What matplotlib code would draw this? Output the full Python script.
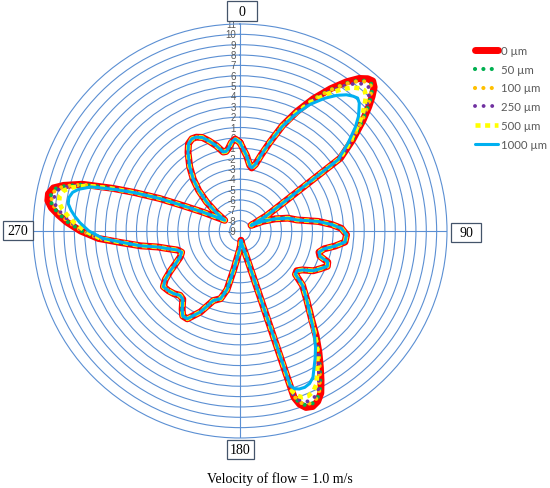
import matplotlib
matplotlib.use("Agg")
import matplotlib.pyplot as plt
import matplotlib.transforms as mtransforms
import numpy as np
from matplotlib.lines import Line2D
from matplotlib.patches import Rectangle

# ---- data ----
ANGLE_DEG = [
    0, 5, 8.5, 10.5, 13, 15.5, 18.5,
    22, 25.5, 29, 32.5, 35.5, 38, 40, 41.5, 43, 44.5, 46, 48, 51, 54,
    60, 63, 67, 71, 75, 79, 83, 86, 88.5, 92, 96, 99, 102, 105, 107.5, 109.5,
    112, 115, 118.5, 122, 125, 128, 131, 136,
    141, 144, 147, 149.5, 151.5, 153.5, 155.5, 157.5, 159.5, 161, 162,
    167, 171, 174, 178, 182, 186, 189, 192.5, 196, 201, 206, 211, 214, 216.5,
    220, 223, 226.5, 230, 234, 237, 240, 243, 246.5, 250, 253, 256, 259, 261.5,
    264.5, 267, 270, 273, 275, 277, 279, 281, 283, 284.5, 286.5, 288.5, 290,
    292, 294, 297, 300.5, 305, 308, 311, 314.5, 318, 322, 326.5, 329.5, 332.5,
    335, 338, 341, 344.5, 348, 350, 352, 354.5, 357,
]

VAL_0UM = [
    -0.45, -1.7, -2.6, -2.8, -2.4, -1.4, 0.0,
    2.0, 3.8, 5.6, 7.3, 8.7, 9.7, 10.2, 10.35, 10.0, 9.2, 8.3, 7.0, 5.0, 3.0,
    -6.0, -7.8, -6.6, -5.4, -4.2, -3.4, -1.4, -0.1, 0.8, 1.3, 1.2, 0.3, -0.7, -1.1, -0.9, 0.0,
    0.1, -0.4, -0.95, -1.9, -2.3, -2.2, -1.0, 0.3,
    2.0, 3.5, 5.0, 6.3, 7.4, 8.5, 9.1, 9.35, 9.2, 8.7, 7.9,
    -6.9, -7.6, -8.1, -7.6, -7.1, -6.4, -5.3, -3.2, -2.2, -1.8, -0.3, 0.9, 0.9, 0.4,
    -0.4, -0.5, -0.2, 0.0, 0.15, -0.4, -1.2, -2.0, -2.7, -3.0, -2.7, -1.9, -0.9, 0.7,
    2.6, 4.7, 6.4, 7.8, 8.6, 9.35, 9.8, 9.85, 9.5, 8.6, 6.9, 4.0, 1.9,
    -0.6, -3.0, -5.0, -6.4, -7.2, -6.0, -4.7, -3.4, -2.25, -1.1, 0.1, 0.8, 1.05,
    1.0, 0.75, 0.2, -0.45, -1.2, -1.2, -0.95, -0.4, -0.1,
]

VAL_50UM = [
    -0.45, -1.7, -2.6, -2.8, -2.4, -1.4, 0.0,
    2.0, 3.75, 5.55, 7.15, 8.5, 9.45, 9.95, 10.1, 9.75, 9.0, 8.15, 6.9, 4.95, 3.0,
    -6.0, -7.8, -6.6, -5.4, -4.2, -3.4, -1.4, -0.1, 0.8, 1.3, 1.2, 0.3, -0.7, -1.1, -0.9, 0.0,
    0.1, -0.4, -0.95, -1.9, -2.3, -2.2, -1.0, 0.3,
    2.0, 3.45, 4.95, 6.2, 7.25, 8.3, 8.9, 9.1, 8.95, 8.5, 7.75,
    -6.9, -7.6, -8.1, -7.6, -7.1, -6.4, -5.3, -3.2, -2.2, -1.8, -0.3, 0.9, 0.9, 0.4,
    -0.4, -0.5, -0.2, 0.0, 0.15, -0.4, -1.2, -2.0, -2.7, -3.0, -2.7, -1.9, -0.9, 0.7,
    2.6, 4.65, 6.3, 7.65, 8.4, 9.1, 9.55, 9.6, 9.25, 8.4, 6.8, 3.95, 1.9,
    -0.6, -3.0, -5.0, -6.4, -7.2, -6.0, -4.7, -3.4, -2.25, -1.1, 0.1, 0.8, 1.05,
    1.0, 0.75, 0.2, -0.45, -1.2, -1.2, -0.95, -0.4, -0.1,
]

VAL_100UM = [
    -0.45, -1.7, -2.6, -2.8, -2.4, -1.4, 0.0,
    2.0, 3.75, 5.5, 7.1, 8.45, 9.35, 9.85, 10.0, 9.65, 8.9, 8.05, 6.85, 4.9, 2.95,
    -6.0, -7.8, -6.6, -5.4, -4.2, -3.4, -1.4, -0.1, 0.8, 1.3, 1.2, 0.3, -0.7, -1.1, -0.9, 0.0,
    0.1, -0.4, -0.95, -1.9, -2.3, -2.2, -1.0, 0.3,
    2.0, 3.45, 4.9, 6.15, 7.15, 8.2, 8.8, 9.0, 8.9, 8.45, 7.7,
    -6.9, -7.6, -8.1, -7.6, -7.1, -6.4, -5.3, -3.2, -2.2, -1.8, -0.3, 0.9, 0.9, 0.4,
    -0.4, -0.5, -0.2, 0.0, 0.15, -0.4, -1.2, -2.0, -2.7, -3.0, -2.7, -1.9, -0.9, 0.7,
    2.6, 4.65, 6.25, 7.6, 8.35, 9.0, 9.45, 9.5, 9.2, 8.35, 6.75, 3.95, 1.9,
    -0.6, -3.0, -5.0, -6.4, -7.2, -6.0, -4.7, -3.4, -2.25, -1.1, 0.1, 0.8, 1.05,
    1.0, 0.75, 0.2, -0.45, -1.2, -1.2, -0.95, -0.4, -0.1,
]

VAL_250UM = [
    -0.45, -1.7, -2.6, -2.8, -2.4, -1.4, 0.0,
    1.95, 3.7, 5.4, 6.95, 8.2, 9.1, 9.55, 9.7, 9.35, 8.65, 7.9, 6.7, 4.8, 2.9,
    -6.0, -7.8, -6.6, -5.4, -4.2, -3.4, -1.4, -0.1, 0.8, 1.3, 1.2, 0.3, -0.7, -1.1, -0.9, 0.0,
    0.1, -0.4, -0.95, -1.9, -2.3, -2.2, -1.0, 0.3,
    1.95, 3.4, 4.8, 6.0, 7.0, 8.0, 8.55, 8.75, 8.65, 8.2, 7.55,
    -6.9, -7.6, -8.1, -7.6, -7.1, -6.4, -5.3, -3.2, -2.2, -1.8, -0.3, 0.9, 0.9, 0.4,
    -0.4, -0.5, -0.2, 0.0, 0.15, -0.4, -1.2, -2.0, -2.7, -3.0, -2.7, -1.9, -0.9, 0.7,
    2.55, 4.6, 6.15, 7.4, 8.1, 8.8, 9.2, 9.25, 8.95, 8.15, 6.65, 3.9, 1.85,
    -0.6, -3.0, -5.0, -6.4, -7.2, -6.0, -4.7, -3.4, -2.25, -1.1, 0.1, 0.8, 1.05,
    1.0, 0.75, 0.2, -0.45, -1.2, -1.2, -0.95, -0.4, -0.1,
]

VAL_500UM = [
    -0.45, -1.7, -2.6, -2.8, -2.4, -1.4, 0.0,
    1.95, 3.65, 5.25, 6.7, 7.8, 8.6, 9.0, 9.15, 8.85, 8.2, 7.55, 6.45, 4.65, 2.85,
    -6.0, -7.8, -6.6, -5.4, -4.2, -3.4, -1.4, -0.1, 0.8, 1.3, 1.2, 0.3, -0.7, -1.1, -0.9, 0.0,
    0.1, -0.4, -0.95, -1.9, -2.3, -2.2, -1.0, 0.3,
    1.95, 3.35, 4.65, 5.75, 6.65, 7.55, 8.05, 8.25, 8.15, 7.8, 7.25,
    -6.9, -7.6, -8.1, -7.6, -7.1, -6.4, -5.3, -3.2, -2.2, -1.8, -0.3, 0.9, 0.9, 0.4,
    -0.4, -0.5, -0.2, 0.0, 0.15, -0.4, -1.2, -2.0, -2.7, -3.0, -2.7, -1.9, -0.9, 0.7,
    2.5, 4.5, 5.95, 7.1, 7.7, 8.3, 8.7, 8.75, 8.45, 7.8, 6.4, 3.8, 1.85,
    -0.6, -3.0, -5.0, -6.4, -7.2, -6.0, -4.7, -3.4, -2.25, -1.1, 0.1, 0.8, 1.05,
    1.0, 0.75, 0.2, -0.45, -1.2, -1.2, -0.95, -0.4, -0.1,
]

VAL_1000UM = [
    -0.45, -1.7, -2.6, -2.8, -2.4, -1.4, 0.0,
    1.9, 3.5, 5.0, 6.2, 7.1, 7.7, 8.0, 8.15, 7.9, 7.4, 6.9, 6.0, 4.4, 2.7,
    -6.0, -7.8, -6.6, -5.4, -4.2, -3.4, -1.4, -0.1, 0.8, 1.3, 1.2, 0.3, -0.7, -1.1, -0.9, 0.0,
    0.1, -0.4, -0.95, -1.9, -2.3, -2.2, -1.0, 0.3,
    1.9, 3.2, 4.4, 5.3, 6.0, 6.8, 7.2, 7.35, 7.3, 7.1, 6.7,
    -6.9, -7.6, -8.1, -7.6, -7.1, -6.4, -5.3, -3.2, -2.2, -1.8, -0.3, 0.9, 0.9, 0.4,
    -0.4, -0.5, -0.2, 0.0, 0.15, -0.4, -1.2, -2.0, -2.7, -3.0, -2.7, -1.9, -0.9, 0.7,
    2.45, 4.3, 5.6, 6.5, 7.0, 7.45, 7.8, 7.85, 7.6, 7.1, 6.0, 3.6, 1.8,
    -0.6, -3.0, -5.0, -6.4, -7.2, -6.0, -4.7, -3.4, -2.25, -1.1, 0.1, 0.8, 1.05,
    1.0, 0.75, 0.2, -0.45, -1.2, -1.2, -0.95, -0.4, -0.1,
]

SERIES_LABELS = ["0 µm", "50 µm", "100 µm", "250 µm", "500 µm", "1000 µm"]
R_TICKS = list(range(-9, 12))
ANGLE_LABELS = ["0", "90", "180", "270"]
CAPTION = "Velocity of flow = 1.0 m/s"

# ---- styling ----
W, H = 550, 489
GRID = "#5B8FD3"
BOX_EDGE = "#44546A"
styles = [
    dict(color="#FF0000", lw=5.0, ls="-", solid_capstyle="round"),
    dict(color="#00B050", lw=3.0, ls=(0, (0.01, 2.0)), dash_capstyle="round"),
    dict(color="#FFC000", lw=3.0, ls=(0, (0.01, 2.0)), dash_capstyle="round"),
    dict(color="#7030A0", lw=2.8, ls=(0, (0.01, 2.2)), dash_capstyle="round"),
    dict(color="#FFFF00", lw=3.3, ls=(0, (1.1, 1.0)), dash_capstyle="butt"),
    dict(color="#00B0F0", lw=2.2, ls="-", solid_capstyle="round"),
]
series = [VAL_0UM, VAL_50UM, VAL_100UM, VAL_250UM, VAL_500UM, VAL_1000UM]

fig = plt.figure(figsize=(W / 100, H / 100), dpi=100)
cx, cy, rad = 240, 232, 207
ax = fig.add_axes([(cx - rad) / W, (H - cy - rad) / H, 2 * rad / W, 2 * rad / H],
                  projection="polar")
ax.set_theta_zero_location("N")
ax.set_theta_direction(-1)
ax.set_ylim(R_TICKS[0], R_TICKS[-1])
ax.set_yticks(R_TICKS[1:-1])
ax.set_yticklabels([])
ax.set_xticks(np.deg2rad([0, 90, 180, 270]))
ax.set_xticklabels([])
ax.tick_params(length=0)
ax.grid(True, color=GRID, lw=0.8)
ax.spines["polar"].set_color(GRID)
ax.spines["polar"].set_linewidth(0.8)

theta = np.deg2rad(ANGLE_DEG + [ANGLE_DEG[0]])
for vals, st, zo in zip(series, styles, range(3, 9)):
    ax.plot(theta, vals + [vals[0]], zorder=zo, **st)

# radial value labels along the 0 direction
lab_tr = mtransforms.offset_copy(ax.transData, fig=fig, x=-4, y=0, units="dots")
for v in R_TICKS:
    ax.text(0, v, str(v), transform=lab_tr, ha="right", va="center",
            fontsize=7, color="#595959", family="Liberation Sans", zorder=2)

# boxed category labels (pixel boxes: x0, y0 from top, w, h)
boxes = [(227, 2, 30, 20), (451, 224, 30, 19), (227, 441, 27, 19), (3, 222, 30, 19)]
for lab, (x0, y0, bw, bh) in zip(ANGLE_LABELS, boxes):
    fig.add_artist(Rectangle((x0 / W, 1 - (y0 + bh) / H), bw / W, bh / H,
                             transform=fig.transFigure, facecolor="white",
                             edgecolor=BOX_EDGE, lw=0.9))
    fig.text((x0 + bw / 2) / W, 1 - (y0 + bh / 2) / H, lab, ha="center", va="center",
             fontsize=10, family="Liberation Serif", color="black")

fig.text(280 / W, 1 - 479 / H, CAPTION, ha="center", va="center",
         fontsize=10, family="Liberation Serif", color="black")

handles = [Line2D([], [], **st) for st in styles]
fig.legend(handles, SERIES_LABELS, loc="upper left", bbox_to_anchor=(475 / W, 1 - 46 / H),
           frameon=False, prop=dict(family="Lato", size=8.2), labelcolor="#595959",
           handlelength=2.0, handletextpad=0.3, labelspacing=0.68,
           borderpad=0, borderaxespad=0)

fig.savefig("out.png", dpi=100, facecolor="white")
